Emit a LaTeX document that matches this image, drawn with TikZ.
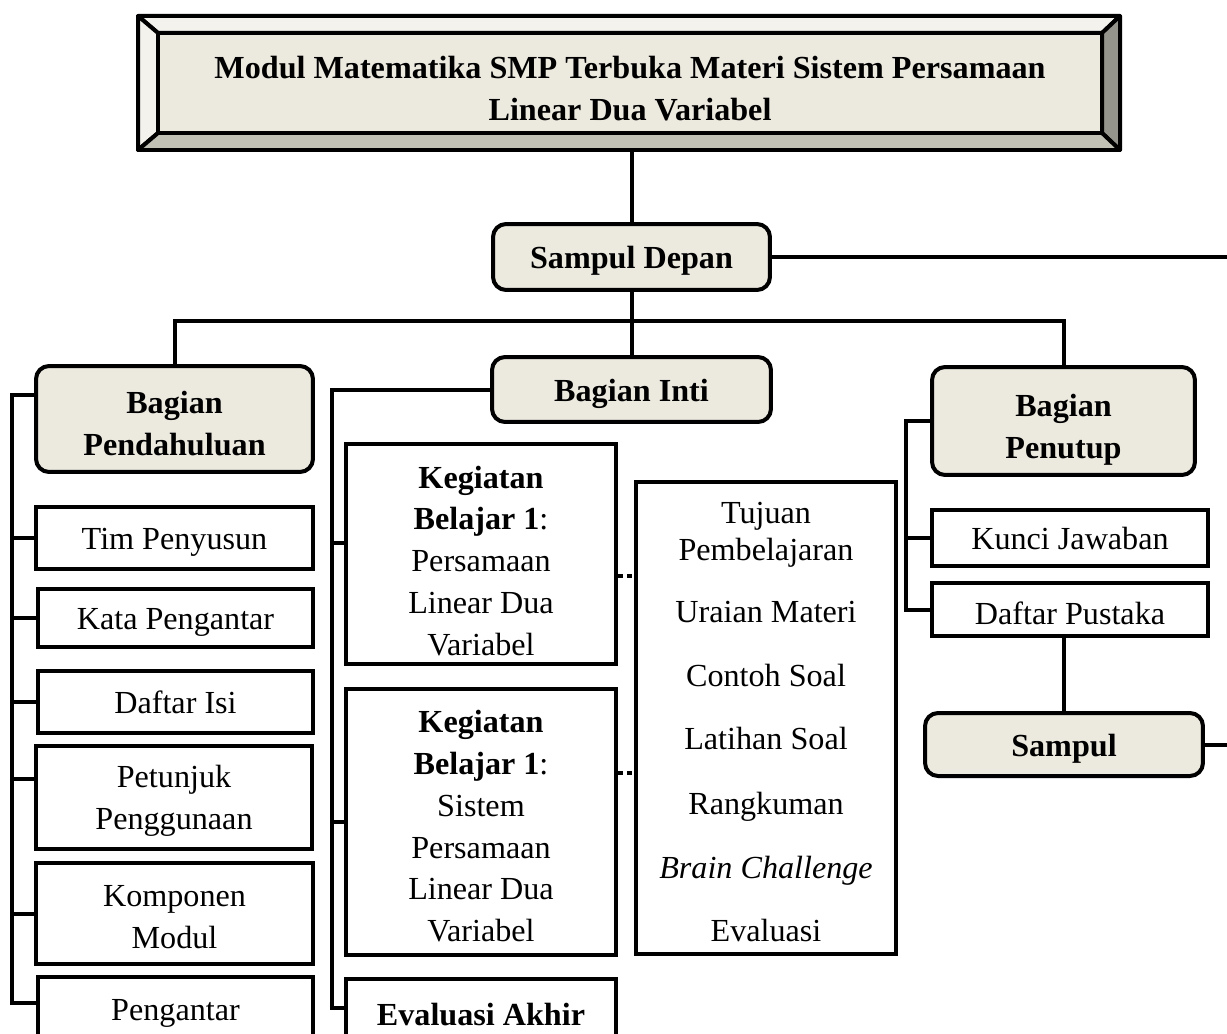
\documentclass[tikz,border=0pt]{standalone}
\usepackage{fontspec}
\setmainfont{Liberation Serif}
\usepackage{tikz}
\usetikzlibrary{positioning,calc}
\definecolor{hdrfill}{HTML}{ECE9DF}
\definecolor{bevlight}{HTML}{F3F2EC}
\definecolor{bevmid}{HTML}{C2C1B6}
\definecolor{bevdark}{HTML}{94948C}
\newcommand{\diafont}{\fontsize{18.3pt}{23.8pt}\selectfont}
\newcommand{\txtdrop}[1][17.5pt]{\rule{0pt}{#1}}

\begin{document}
\begin{tikzpicture}[x=0.02cm,y=-0.02cm,line width=0.08cm,
  low/.style={execute at begin node={\txtdrop}},
  hdr/.style={rectangle,rounded corners=0.26cm,draw=black,fill=hdrfill,
              align=center,font=\diafont\bfseries,inner sep=0pt},
  item/.style={rectangle,draw=black,fill=white,align=center,
               font=\diafont,inner sep=0pt},
  txt/.style={align=center,font=\diafont,inner sep=0pt},
  dsh/.style={dash pattern=on 0.1cm off 0.08cm}]
\clip (0,0) rectangle (1227,1034);
%% ── Title block with bevelled frame ─────────────────────────────────────
\draw[line join=round,fill=bevlight] (138,16) -- (1120,16) -- (1102,33) -- (158,33) -- cycle;
\draw[line join=round,fill=bevlight] (138,16) -- (158,33) -- (158,133) -- (138,150) -- cycle;
\draw[line join=round,fill=bevdark] (1120,16) -- (1102,33) -- (1102,133) -- (1120,150) -- cycle;
\draw[line join=round,fill=bevmid] (138,150) -- (158,133) -- (1102,133) -- (1120,150) -- cycle;
\node[hdr,sharp corners,minimum width=18.88cm,minimum height=2cm](title) at (630,83)
  {\txtdrop[19pt]Modul Matematika SMP Terbuka Materi Sistem Persamaan\\Linear Dua Variabel};
\coordinate (bevelS) at (631,150);
%% ── Main headers ────────────────────────────────────────────────────────
\node[hdr,low,minimum width=5.54cm,minimum height=1.32cm](sdepan) at (631.5,257) {Sampul Depan};
\node[hdr,minimum width=5.54cm,minimum height=2.12cm](pend) at (174.5,419)
  {\txtdrop Bagian\\Pendahuluan};
\node[hdr,low,minimum width=5.58cm,minimum height=1.3cm](inti) at (631.5,389.5) {Bagian Inti};
\node[hdr,minimum width=5.26cm,minimum height=2.16cm](tutup) at (1063.5,421)
  {\txtdrop[22.5pt]Bagian\\Penutup};
%% ── Bagian Pendahuluan items ────────────────────────────────────────────
\node[item,low,minimum width=5.54cm,minimum height=1.24cm](tim) at (174.5,538) {Tim Penyusun};
\node[item,low,minimum width=5.5cm,minimum height=1.16cm](kata) at (175.5,618) {Kata Pengantar};
\node[item,minimum width=5.5cm,minimum height=1.24cm](isi) at (175.5,702) {Daftar Isi};
\node[item,minimum width=5.52cm,minimum height=2.06cm](petunjuk) at (174,797.5)
  {\txtdrop[16.5pt]Petunjuk\\Penggunaan};
\node[item,minimum width=5.54cm,minimum height=2.02cm](komponen) at (174.5,913.5)
  {\txtdrop[16.5pt]Komponen\\Modul};
\node[item,minimum width=5.5cm,minimum height=1.46cm](pengantar) at (175.5,1013.5) {Pengantar};
%% ── Bagian Inti items ───────────────────────────────────────────────────
\node[item,minimum width=5.4cm,minimum height=4.4cm](keg1) at (481,554)
  {\txtdrop[20.5pt]\textbf{Kegiatan}\\\textbf{Belajar 1}:\\Persamaan\\Linear Dua\\Variabel};
\node[item,minimum width=5.4cm,minimum height=5.32cm](keg2) at (481,822)
  {\txtdrop\textbf{Kegiatan}\\\textbf{Belajar 1}:\\Sistem\\Persamaan\\Linear Dua\\Variabel};
\node[item,font=\diafont\bfseries,minimum width=5.4cm,minimum height=1.42cm](evakhir)
  at (481,1014.5) {Evaluasi Akhir};
\node[item,minimum width=5.2cm,minimum height=9.44cm](list) at (766,718) {};
\foreach \t/\yy [count=\i] in {{Tujuan\\[-0.1cm]Pembelajaran}/535,Uraian Materi/612,
    Contoh Soal/675,Latihan Soal/738,Rangkuman/807,\textit{Brain Challenge}/871,Evaluasi/930}
  \node[txt](li\i) at (766,\yy) {\t};
%% ── Bagian Penutup items ────────────────────────────────────────────────
\node[item,minimum width=5.52cm,minimum height=1.12cm](kunci) at (1070,538) {Kunci Jawaban};
\node[item,low,minimum width=5.52cm,minimum height=1.06cm](pustaka) at (1070,609.5) {Daftar Pustaka};
\node[hdr,low,minimum width=5.56cm,minimum height=1.26cm](sampul) at (1064,744.5) {Sampul};
%% ── Spines and free ends ────────────────────────────────────────────────
\coordinate (lspine) at (12,0);
\coordinate (mspine) at (332,0);
\coordinate (rspine) at (906,0);
\coordinate (edge) at (1227,0);
%% ── Trunk ───────────────────────────────────────────────────────────────
\draw (sdepan.north) -- (sdepan.north |- bevelS);
\draw (sdepan.east) -- (sdepan.east -| edge);
\draw (sdepan.south) -- (inti.north);
\draw (pend.north) -- ++(0,-43) -| (tutup.north);
%% ── Left branch ─────────────────────────────────────────────────────────
\coordinate (pdBr) at ([yshift=0.48cm]pend.west);
\coordinate (ptBr) at ([yshift=0.37cm]petunjuk.west);
\coordinate (pgBr) at ([yshift=0.21cm]pengantar.west);
\draw (pdBr) -| (pgBr -| lspine) -- (pgBr);
\foreach \b in {tim,kata,isi,komponen}
  \draw (\b.west) -- (\b.west -| lspine);
\draw (ptBr) -- (ptBr -| lspine);
%% ── Middle branch ───────────────────────────────────────────────────────
\coordinate (k1Br) at ([yshift=0.22cm]keg1.west);
\coordinate (evBr) at ([yshift=0.13cm]evakhir.west);
\draw (inti.west) -| (evBr -| mspine) -- (evBr);
\draw (k1Br) -- (k1Br -| mspine);
\draw (keg2.west) -- (keg2.west -| mspine);
\coordinate (k1Ds) at ([yshift=-0.44cm]keg1.east);
\coordinate (k2Ds) at ([yshift=0.98cm]keg2.east);
\draw[dsh] (k1Ds) -- (k1Ds -| list.west);
\draw[dsh] (k2Ds) -- (k2Ds -| list.west);
%% ── Right branch ────────────────────────────────────────────────────────
\draw (tutup.west) -| (pustaka.west -| rspine) -- (pustaka.west);
\draw (kunci.west) -- (kunci.west -| rspine);
\draw (sampul.north) -- (sampul.north |- pustaka.south);
\draw (sampul.east) -- (sampul.east -| edge);
\end{tikzpicture}
\end{document}
